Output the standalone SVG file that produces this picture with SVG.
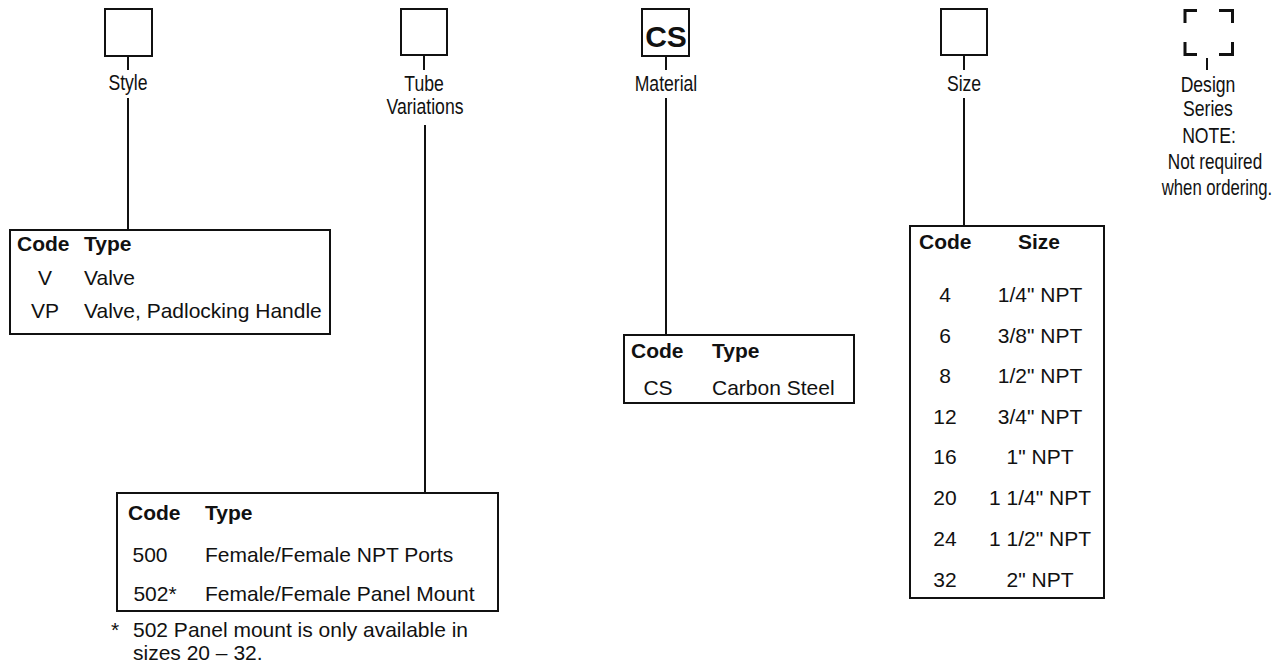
<svg xmlns="http://www.w3.org/2000/svg" width="1274" height="668" viewBox="0 0 1274 668">
<style>
.box{fill:#fff;stroke:#111;stroke-width:2}
.ln{stroke:#111;stroke-width:2;fill:none}
.brk{stroke:#111;stroke-width:3;fill:none}
.lbl{font-family:"Liberation Sans",Arial,sans-serif;font-size:22px;fill:#111;text-anchor:middle}
.t{font-family:"Liberation Sans",Arial,sans-serif;font-size:21px;fill:#111}
.b{font-weight:bold}
.c{text-anchor:middle}
</style>
<rect width="1274" height="668" fill="#fff"/>
<g id="connectors">
<line class="ln" x1="128" y1="56" x2="128" y2="70"/>
<line class="ln" x1="128" y1="98" x2="128" y2="230"/>
<line class="ln" x1="424" y1="55" x2="424" y2="70"/>
<line class="ln" x1="425" y1="125" x2="425" y2="493"/>
<line class="ln" x1="666" y1="56" x2="666" y2="70"/>
<line class="ln" x1="666" y1="98" x2="666" y2="335"/>
<line class="ln" x1="964" y1="55" x2="964" y2="70"/>
<line class="ln" x1="964" y1="98" x2="964" y2="226"/>
<line class="ln" x1="1207" y1="58" x2="1207" y2="70" stroke-width="1.5"/>
</g>
<g id="style">
<rect class="box" x="105" y="9" width="47" height="47"/>
<text class="lbl" transform="translate(128,90) scale(0.8,1)">Style</text>
</g>
<g id="tube">
<rect class="box" x="401" y="9" width="46" height="46"/>
<text class="lbl" transform="translate(424,91) scale(0.8,1)">Tube</text>
<text class="lbl" transform="translate(425,114) scale(0.8,1)">Variations</text>
</g>
<g id="material">
<rect class="box" x="642" y="9" width="47" height="47"/>
<text class="t b c" x="666" y="47" style="font-size:30px">CS</text>
<text class="lbl" transform="translate(666,91) scale(0.8,1)">Material</text>
</g>
<g id="size">
<rect class="box" x="941" y="9" width="46" height="46"/>
<text class="lbl" transform="translate(964,91) scale(0.8,1)">Size</text>
</g>
<g id="design">
<path class="brk" d="M1185 23V10.5H1197M1219 10.5H1232.5V23M1185 42V54.5H1197M1219 54.5H1232.5V42"/>
<text class="lbl" transform="translate(1208,92) scale(0.8,1)">Design</text>
<text class="lbl" transform="translate(1208,116) scale(0.8,1)">Series</text>
<text class="lbl" transform="translate(1209,143) scale(0.8,1)">NOTE:</text>
<text class="lbl" transform="translate(1215,169) scale(0.78,1)">Not required</text>
<text class="lbl" transform="translate(1217,195) scale(0.76,1)">when ordering.</text>
</g>
<g id="style-table">
<rect class="box" x="10" y="230" width="320" height="104"/>
<text class="t b" x="17" y="251">Code</text>
<text class="t b" x="84" y="251">Type</text>
<text class="t c" x="45" y="285">V</text>
<text class="t" x="84" y="285">Valve</text>
<text class="t c" x="45" y="318">VP</text>
<text class="t" x="84" y="318">Valve, Padlocking Handle</text>
</g>
<g id="tube-table">
<rect class="box" x="117" y="493" width="381" height="118"/>
<text class="t b" x="128" y="520">Code</text>
<text class="t b" x="205" y="520">Type</text>
<text class="t c" x="150" y="562">500</text>
<text class="t" x="205" y="562">Female/Female NPT Ports</text>
<text class="t c" x="155" y="601">502*</text>
<text class="t" x="205" y="601">Female/Female Panel Mount</text>
<text class="t" x="111" y="637">*</text>
<text class="t" x="133" y="637">502 Panel mount is only available in</text>
<text class="t" x="133" y="660">sizes 20 – 32.</text>
</g>
<g id="material-table">
<rect class="box" x="624" y="335" width="230" height="68"/>
<text class="t b" x="631" y="358">Code</text>
<text class="t b" x="712" y="358">Type</text>
<text class="t c" x="658" y="395">CS</text>
<text class="t" x="712" y="395">Carbon Steel</text>
</g>
<g id="size-table">
<rect class="box" x="910" y="226" width="194" height="372"/>
<text class="t b" x="919" y="249">Code</text>
<text class="t b c" x="1039" y="249">Size</text>
<text class="t c" x="945" y="302">4</text><text class="t c" x="1040" y="302">1/4" NPT</text>
<text class="t c" x="945" y="343">6</text><text class="t c" x="1040" y="343">3/8" NPT</text>
<text class="t c" x="945" y="383">8</text><text class="t c" x="1040" y="383">1/2" NPT</text>
<text class="t c" x="945" y="424">12</text><text class="t c" x="1040" y="424">3/4" NPT</text>
<text class="t c" x="945" y="464">16</text><text class="t c" x="1040" y="464">1" NPT</text>
<text class="t c" x="945" y="505">20</text><text class="t c" x="1040" y="505">1 1/4" NPT</text>
<text class="t c" x="945" y="546">24</text><text class="t c" x="1040" y="546">1 1/2" NPT</text>
<text class="t c" x="945" y="587">32</text><text class="t c" x="1040" y="587">2" NPT</text>
</g>
</svg>
